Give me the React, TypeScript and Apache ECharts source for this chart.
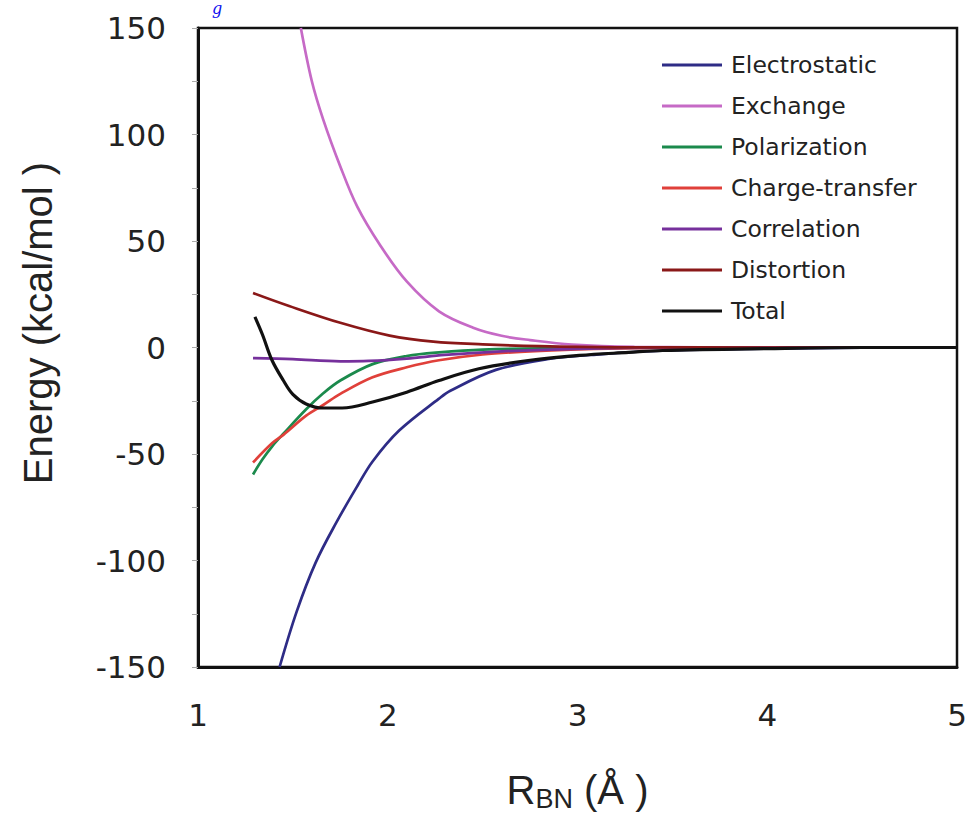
import React, { useEffect, useRef } from "react";
import * as echarts from "echarts";

const seriesNames = ["Electrostatic", "Exchange", "Polarization", "Charge-transfer", "Correlation", "Distortion", "Total"];
const seriesColors = ["#2e2c86", "#c66ac6", "#1b8a4c", "#e0403a", "#76309c", "#8a1818", "#111111"];

const electrostatic = [[1.43, -150], [1.52, -124], [1.62, -101], [1.73, -82], [1.84, -65], [1.92, -53.5], [2.06, -39], [2.27, -24], [2.33, -20.3], [2.57, -10.5], [2.84, -5.5], [3.1, -3.3], [3.5, -1.3], [4, -0.5], [4.5, -0.1], [5, 0]];
const exchange = [[1.542, 150], [1.6, 125], [1.66, 107], [1.75, 85], [1.84, 66], [1.96, 48], [2.1, 31], [2.27, 17], [2.45, 9.3], [2.6, 5.5], [2.75, 3.5], [2.97, 1.4], [3.3, 0.3], [4, 0], [5, 0]];
const polarization = [[1.29, -59.6], [1.34, -52.5], [1.39, -46.5], [1.45, -40.5], [1.57, -29], [1.66, -21.5], [1.75, -15.5], [1.92, -7.8], [2.1, -4], [2.27, -2.3], [2.5, -1], [3, -0.2], [4, 0], [5, 0]];
const chargeTransfer = [[1.29, -54], [1.39, -45], [1.45, -41], [1.57, -32], [1.66, -27], [1.75, -21.8], [1.92, -14], [2.1, -9.3], [2.27, -6], [2.5, -3.3], [2.75, -1.8], [3, -0.9], [3.3, -0.3], [4, 0], [5, 0]];
const correlation = [[1.29, -5], [1.5, -5.5], [1.75, -6.5], [1.9, -6.3], [2.1, -5.2], [2.3, -3.5], [2.6, -1.8], [3, -0.6], [3.5, -0.1], [5, 0]];
const distortion = [[1.29, 25.6], [1.48, 19.5], [1.75, 11.6], [2.01, 5.6], [2.24, 2.8], [2.5, 1.5], [2.8, 0.6], [3.2, 0.1], [4, 0], [5, 0]];
const total = [[1.3, 14.4], [1.34, 6], [1.39, -6], [1.45, -15.5], [1.5, -22], [1.57, -26.5], [1.66, -28.4], [1.76, -28.4], [1.92, -25.6], [2.1, -21], [2.27, -15.5], [2.48, -10], [2.75, -6], [3.01, -3.7], [3.27, -2.3], [3.45, -1.4], [4, -0.5], [4.5, 0], [5, 0]];

const allData = [electrostatic, exchange, polarization, chargeTransfer, correlation, distortion, total];

const xTicks = [1, 2, 3, 4, 5];
const yTicks = [-150, -100, -50, 0, 50, 100, 150];

export default function App() {
  const ref = useRef<HTMLDivElement>(null);
  useEffect(() => {
    if (!ref.current) return;
    const chart = echarts.init(ref.current, null, { renderer: "svg" });
    const font = "DejaVu Sans";
    chart.setOption({
      animation: false,
      backgroundColor: "#ffffff",
      grid: {
        left: 198, right: 16, top: 28, bottom: 145,
        show: true, borderColor: "#111", borderWidth: 2.5, backgroundColor: "transparent",
      },
      legend: {
        orient: "vertical",
        left: 657, top: 48,
        data: seriesNames,
        icon: "rect",
        itemWidth: 60, itemHeight: 3,
        itemGap: 17,
        textStyle: { fontFamily: font, fontSize: 23.5, color: "#222", lineHeight: 24, padding: [0, 0, 0, 4] },
      },
      xAxis: {
        type: "value",
        min: xTicks[0], max: xTicks[xTicks.length - 1], interval: 1,
        axisLine: { show: true, onZero: false, lineStyle: { color: "#111", width: 3 } },
        axisTick: { show: false },
        splitLine: { show: false },
        axisLabel: { fontFamily: font, fontSize: 31, color: "#222", margin: 32 },
        name: "{a|R}{b|BN}{a| (Å )}",
        nameLocation: "middle",
        nameGap: 100,
        nameTextStyle: {
          rich: {
            a: { fontFamily: "Liberation Sans", fontSize: 40, color: "#222" },
            b: { fontFamily: "Liberation Sans", fontSize: 27, color: "#222", padding: [18, 0, 0, 0] },
          },
        },
      },
      yAxis: {
        type: "value",
        min: yTicks[0], max: yTicks[yTicks.length - 1], interval: 50,
        axisLine: { show: true, lineStyle: { color: "#111", width: 3 } },
        axisTick: { show: true, length: 6, lineStyle: { color: "#aaa", width: 1 } },
        minorTick: { show: true, splitNumber: 2, length: 6, lineStyle: { color: "#aaa", width: 1 } },
        splitLine: { show: false },
        axisLabel: { fontFamily: font, fontSize: 31, color: "#222", margin: 32 },
      },
      graphic: [
        {
          type: "text",
          x: 38, y: 323,
          rotation: Math.PI / 2,
          style: {
            text: "Energy (kcal/mol )",
            font: "40px 'Liberation Sans'",
            fill: "#222",
            align: "center",
            verticalAlign: "middle",
          },
        },
        {
          type: "text",
          left: 212, top: 0,
          style: { text: "g", font: "italic 16px 'DejaVu Serif'", fill: "#1010ee" },
        },
      ],
      series: seriesNames.map((name, i) => ({
        name,
        type: "line",
        data: allData[i],
        smooth: 0.35,
        showSymbol: false,
        symbol: "none",
        lineStyle: { color: seriesColors[i], width: i === 6 ? 3.2 : 2.7 },
        itemStyle: { color: seriesColors[i] },
      })),
    });
    return () => chart.dispose();
  }, []);
  return <div ref={ref} style={{ position: "absolute", left: 0, top: 0, width: 973, height: 817 }} />;
}
